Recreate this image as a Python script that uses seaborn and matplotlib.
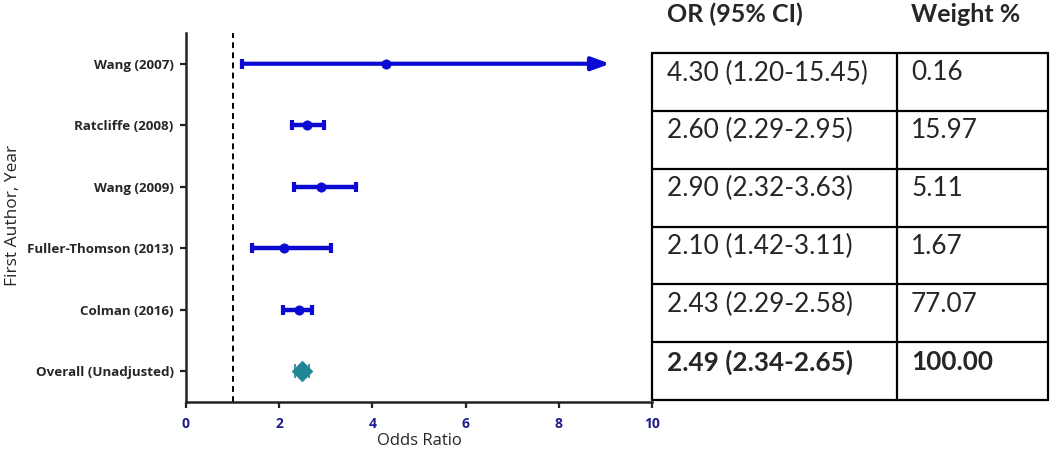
import matplotlib
matplotlib.use("Agg")
import matplotlib.pyplot as plt
import seaborn as sns
import pandas as pd
import numpy as np

# ---- data ----
studies = ["Wang (2007)", "Ratcliffe (2008)", "Wang (2009)",
           "Fuller-Thomson (2013)", "Colman (2016)", "Overall (Unadjusted)"]
odds_ratio = [4.30, 2.60, 2.90, 2.10, 2.43, 2.49]
ci_lower = [1.20, 2.28, 2.31, 1.42, 2.08, 2.34]
ci_upper = [9.10, 2.96, 3.64, 3.11, 2.71, 2.65]   # Wang (2007) truncated by arrow
truncated = [True, False, False, False, False, False]
or_text = ["4.30 (1.20-15.45)", "2.60 (2.29-2.95)", "2.90 (2.32-3.63)",
           "2.10 (1.42-3.11)", "2.43 (2.29-2.58)", "2.49 (2.34-2.65)"]
weight_text = ["0.16", "15.97", "5.11", "1.67", "77.07", "100.00"]
x_ticks = [0, 2, 4, 6, 8, 10]

df = pd.DataFrame({"study": studies, "OR": odds_ratio, "lo": ci_lower,
                   "hi": ci_upper, "trunc": truncated})
df["y"] = np.arange(len(df))
df["kind"] = ["study"] * (len(df) - 1) + ["overall"]

BLUE = "#0a0ad2"
TEAL = "#1f8696"
NAVY = "#1c1c8c"

sns.set_style("white")
plt.rcParams["font.family"] = ["Open Sans", "DejaVu Sans"]

fig = plt.figure(figsize=(10.5, 4.54), dpi=100)
ax = fig.add_axes([186 / 1050, 1 - 402 / 454, (652 - 186) / 1050, (402 - 33) / 454])

# reference line
ax.axvline(1, color="black", lw=1.4, ls=(0, (3, 2.2)), zorder=1)

studies_df = df[df["kind"] == "study"]
for _, r in studies_df.iterrows():
    if r["trunc"]:
        ax.annotate("", xy=(r["hi"], r["y"]), xytext=(r["lo"], r["y"]),
                    arrowprops=dict(arrowstyle="-|>,head_length=0.6,head_width=0.22",
                                    lw=3.0, color=BLUE,
                                    mutation_scale=18, shrinkA=0, shrinkB=0))
        ax.plot([r["lo"], r["lo"]], [r["y"] - 0.08, r["y"] + 0.08], color=BLUE,
                lw=3, solid_capstyle="butt")
    else:
        ax.errorbar(r["OR"], r["y"], xerr=[[r["OR"] - r["lo"]], [r["hi"] - r["OR"]]],
                    fmt="none", ecolor=BLUE, elinewidth=3.2, capsize=3.8, capthick=3)

sns.scatterplot(data=studies_df, x="OR", y="y", ax=ax, color=BLUE, s=45,
                marker="o", edgecolor=BLUE, linewidth=0.5, zorder=5, legend=False)

ov = df[df["kind"] == "overall"].iloc[0]
ax.errorbar(ov["OR"], ov["y"], xerr=[[ov["OR"] - ov["lo"]], [ov["hi"] - ov["OR"]]],
            fmt="none", ecolor=TEAL, elinewidth=1.2, capsize=5, capthick=1.2)
sns.scatterplot(data=df[df["kind"] == "overall"], x="OR", y="y", ax=ax,
                color=TEAL, marker="D", s=110, edgecolor=TEAL, linewidth=0.5,
                zorder=5, legend=False)

ax.set_xlim(0, 10)
ax.set_ylim(len(df) - 0.5, -0.5)
ax.set_xticks(x_ticks)
ax.set_xticklabels([str(t) for t in x_ticks], color=NAVY, fontweight="bold", fontsize=10)
ax.set_yticks(df["y"])
ax.set_yticklabels(studies, fontweight="bold", fontsize=9.6)
ax.tick_params(axis="both", direction="out", length=4, width=1.6, color="#222222",
               left=True, bottom=True)
ax.tick_params(axis="x", pad=7)
ax.tick_params(axis="y", pad=5)
for s in ["top", "right"]:
    ax.spines[s].set_visible(False)
for s in ["left", "bottom"]:
    ax.spines[s].set_color("#222222")
    ax.spines[s].set_linewidth(1.8)
ax.set_xlabel("Odds Ratio", fontsize=12, labelpad=1)
ax.set_ylabel("")
fig.text(13 / 1050, 1 - 215 / 454, "First Author, Year", rotation=90,
         fontsize=12.5, ha="center", va="center")

# ---- table ----
tab = fig.add_axes([0, 0, 1, 1])
tab.set_xlim(0, 1050)
tab.set_ylim(454, 0)
tab.axis("off")
tx0, tx1, tdiv = 652, 1048, 897
ty0, ty1 = 53, 400
n = len(df)
rh = (ty1 - ty0) / n
TFONT = ["Lato", "DejaVu Sans"]
for i in range(n + 1):
    yy = ty0 + i * rh
    tab.plot([tx0, tx1], [yy, yy], color="black", lw=1.6)
for xx in [tx0, tdiv, tx1]:
    tab.plot([xx, xx], [ty0, ty1], color="black", lw=1.6)
tab.text(667, 14, "OR (95% CI)", fontsize=18, fontweight="bold", va="center",
         ha="left", family=TFONT)
tab.text(911, 14, "Weight %", fontsize=18, fontweight="bold", va="center",
         ha="left", family=TFONT)
for i in range(n):
    yy = ty0 + i * rh + 20
    w = "bold" if i == n - 1 else "normal"
    tab.text(667, yy, or_text[i], fontsize=18.8, va="center", ha="left",
             fontweight=w, family=TFONT)
    tab.text(911, yy, weight_text[i], fontsize=18.8, va="center", ha="left",
             fontweight=w, family=TFONT)

fig.savefig("out.png", dpi=100)
